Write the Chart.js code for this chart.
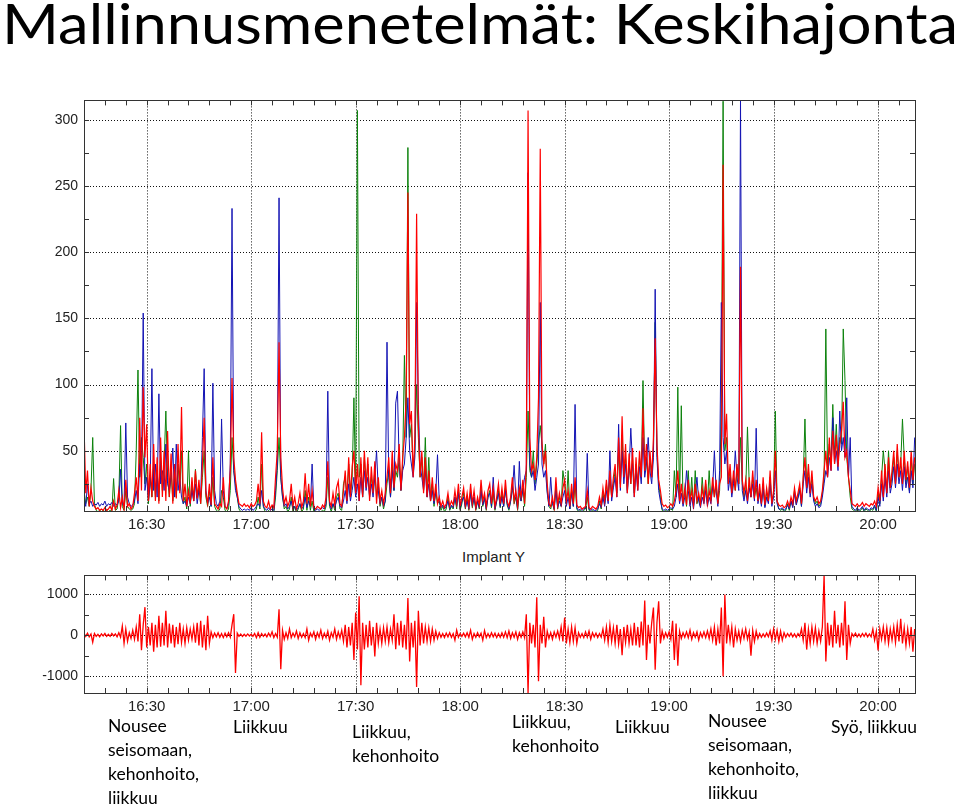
<!DOCTYPE html>
<html lang="fi">
<head>
  <meta charset="UTF-8">
  <title>Mallinnusmenetelmät: Keskihajonta</title>
  <script src="https://cdn.jsdelivr.net/npm/chart.js"></script>
  <style>
    body {
      margin: 0;
      width: 960px;
      height: 807px;
      background: #fff;
      position: relative;
      overflow: hidden;
      font-family: Lato, "Open Sans", sans-serif;
    }
    #title {
      position: absolute;
      left: 2px;
      top: -5px;
      font-size: 56px;
      line-height: 56px;
      white-space: nowrap;
      display: inline-block;
      transform-origin: 0 0;
      color: #000;
    }
    .box {
      position: absolute;
      left: 0;
      width: 960px;
    }
    #topBox { top: 86px; height: 454px; }
    #bottomBox { top: 561px; height: 164px; }
    #implant {
      position: absolute;
      left: 462px;
      top: 548px;
      font: 15px "Liberation Sans", Arial, sans-serif;
      color: #222;
    }
    .note {
      position: absolute;
      font-size: 17.5px;
      line-height: 24px;
      color: #000;
      white-space: nowrap;
    }
  </style>
</head>
<body>
  <div id="title">Mallinnusmenetelmät: Keskihajonta</div>
  <div class="box" id="topBox"><canvas id="topChart"></canvas></div>
  <div id="implant">Implant Y</div>
  <div class="box" id="bottomBox"><canvas id="bottomChart"></canvas></div>

  <div class="note" style="left:108px; top:714px;">Nousee<br>seisomaan,<br>kehonhoito,<br>liikkuu</div>
  <div class="note" style="left:233px; top:715px;">Liikkuu</div>
  <div class="note" style="left:352px; top:720px;">Liikkuu,<br>kehonhoito</div>
  <div class="note" style="left:512px; top:710px;">Liikkuu,<br>kehonhoito</div>
  <div class="note" style="left:615px; top:715px;">Liikkuu</div>
  <div class="note" style="left:708px; top:709px;">Nousee<br>seisomaan,<br>kehonhoito,<br>liikkuu</div>
  <div class="note" style="left:831px; top:715px;">Syö, liikkuu</div>

  <script>
    // time axis: minutes after 16:00, one sample every half minute
    const startMinute = 12;
    const stepMinutes = 0.5;
    const xMin = 12, xMax = 250.6;

    // top plot, std of the three channels
    const redStd = [
      70,18,35,8,22,12,8,6,7,5,6,5,7,5,6,8,5,12,6,9,
      20,7,15,6,28,8,10,6,8,18,30,12,75,20,98,45,70,12,40,15,
      55,12,45,10,60,15,50,12,65,15,48,10,40,14,55,18,83,12,25,8,
      20,10,30,12,35,14,28,10,40,75,18,10,25,9,45,10,8,6,10,8,
      30,8,6,12,35,105,45,28,18,10,9,8,10,8,9,7,10,8,9,12,
      25,10,64,12,8,7,12,6,9,7,30,50,132,45,22,10,15,8,12,25,
      8,15,6,10,18,7,12,33,10,25,8,20,7,6,8,7,6,9,7,15,
      42,12,8,18,9,22,27,10,8,20,35,12,45,15,38,50,18,40,12,45,
      15,50,22,45,12,38,18,42,10,30,12,20,10,18,30,45,18,50,22,40,
      35,55,20,45,60,90,245,70,80,30,60,229,70,30,50,18,45,15,35,12,
      30,12,25,10,15,8,12,7,10,18,8,12,9,20,10,25,8,15,22,9,
      18,8,25,10,20,7,15,9,28,12,18,8,20,25,10,22,8,15,25,10,
      22,10,28,12,8,15,30,12,20,8,22,15,28,10,40,307,60,35,40,28,
      45,90,278,55,40,50,25,10,8,15,7,30,9,18,10,22,28,12,20,8,
      25,10,30,9,7,8,6,7,8,20,7,6,8,7,6,8,15,9,22,12,
      28,12,35,15,30,40,15,60,22,76,30,55,18,48,25,52,15,45,20,50,
      30,82,35,55,25,50,30,60,135,55,28,20,10,8,9,7,8,10,8,12,
      20,35,12,25,10,22,9,28,12,20,9,25,12,18,10,22,12,28,10,20,
      12,30,15,28,10,25,30,266,55,78,25,40,18,35,20,40,25,189,28,18,
      28,12,30,15,35,14,28,12,25,10,30,9,22,12,35,10,20,50,12,9,
      8,9,7,8,12,8,15,10,22,12,18,25,10,30,45,22,40,18,35,15,
      12,15,10,12,20,35,50,30,60,35,65,40,62,38,55,65,87,45,50,30,
      20,10,9,8,10,8,9,11,8,10,9,8,10,9,12,8,22,12,35,15,
      40,18,45,22,35,50,25,55,30,45,25,50,28,42,22,50,28,45
    ];
    const blueStd = [
      15,8,25,10,12,8,10,9,11,8,10,9,12,8,10,9,11,8,10,9,
      12,36,10,8,71,15,10,8,9,12,20,10,40,30,154,20,30,12,25,112,
      20,40,15,93,25,35,20,55,25,20,30,52,15,55,20,30,15,10,12,8,
      15,10,20,12,25,10,20,15,60,112,20,10,15,8,101,20,10,8,12,74,
      20,8,6,10,40,233,35,20,15,8,6,5,6,5,6,5,7,5,6,8,
      10,8,20,8,6,5,7,5,6,5,20,40,241,30,15,8,10,6,8,12,
      6,8,5,7,10,6,8,15,7,12,8,40,6,5,6,5,6,7,6,10,
      95,10,6,10,7,12,15,8,7,12,20,10,25,12,20,30,15,25,12,30,
      15,35,20,30,15,25,15,30,50,20,10,15,8,12,132,30,15,35,20,86,
      95,40,20,35,40,60,90,50,40,30,45,162,85,40,30,20,35,15,25,12,
      20,10,18,47,12,7,9,6,8,12,6,9,7,15,8,18,6,12,15,7,
      12,6,18,8,15,6,12,7,20,9,14,6,15,18,8,30,6,12,18,8,
      15,8,20,10,6,12,20,39,15,6,42,12,20,30,35,260,40,30,35,20,
      30,40,162,40,30,35,18,8,30,10,6,20,7,12,8,15,20,8,15,6,
      18,8,85,7,5,6,5,6,7,48,6,5,6,5,5,6,10,7,15,8,
      20,10,50,12,22,30,15,70,20,50,25,40,18,35,67,40,15,35,20,38,
      25,60,30,40,60,35,25,45,172,45,20,12,6,5,6,5,6,7,6,8,
      15,25,10,18,8,15,35,20,8,15,6,18,30,12,7,15,10,20,8,15,
      10,22,50,20,8,35,162,60,40,50,20,30,15,25,50,30,20,315,20,12,
      20,10,22,15,25,12,67,10,18,8,22,7,15,10,25,8,15,35,10,6,
      6,7,5,6,9,6,12,7,18,9,14,20,8,25,35,18,30,15,25,12,
      8,10,7,8,15,25,35,30,45,35,75,40,50,35,80,50,60,45,90,30,
      60,8,6,5,7,5,6,8,5,7,6,5,7,6,9,5,15,8,25,12,
      30,15,35,18,25,38,22,40,25,35,20,38,22,30,18,35,22,60
    ];
    const greenStd = [
      20,10,15,8,20,60,10,5,4,5,4,5,4,5,4,5,4,29,5,6,
      15,69,8,5,20,8,6,5,6,10,50,111,30,60,45,25,40,10,30,15,
      40,15,35,12,45,20,40,80,30,15,35,12,30,15,40,20,50,10,15,6,
      50,8,25,12,36,15,22,10,30,50,15,8,20,8,30,8,5,4,6,20,
      15,5,4,6,20,60,35,25,15,6,4,3,4,3,4,3,4,3,4,6,
      15,6,40,8,4,3,5,3,4,3,15,35,60,30,15,6,8,4,6,15,
      4,8,3,6,10,4,6,20,5,15,5,12,4,3,4,3,4,5,4,8,
      30,8,4,10,5,15,18,6,5,25,30,12,40,15,30,90,20,307,30,40,
      15,45,25,40,15,30,20,35,15,25,8,15,6,12,25,35,15,40,20,35,
      30,45,20,40,122,60,279,60,70,35,50,100,60,30,45,20,60,15,45,12,
      25,8,20,10,12,5,8,4,6,15,5,8,6,15,6,20,5,10,18,6,
      15,5,20,7,15,5,12,6,22,8,15,5,15,20,7,18,5,12,20,7,
      18,8,22,9,5,12,25,10,15,5,18,12,22,8,30,80,35,30,50,25,
      40,55,69,55,40,55,20,8,6,12,5,25,6,15,8,35,25,10,35,6,
      20,8,25,6,4,5,4,5,6,15,5,4,5,4,4,5,12,6,18,10,
      25,12,30,15,25,35,18,50,25,60,30,45,20,40,25,45,18,40,25,45,
      30,103,35,45,25,45,30,50,147,50,25,15,5,4,5,4,5,6,5,35,
      15,98,12,84,10,20,8,35,10,30,7,35,10,15,8,30,12,25,10,35,
      12,25,15,25,10,20,86,314,50,60,25,35,18,30,20,35,25,60,25,15,
      20,68,25,15,30,15,22,12,20,10,25,8,18,12,30,10,18,80,12,6,
      5,6,4,5,10,5,12,8,20,10,15,22,8,28,74,22,35,18,30,15,
      10,12,8,10,18,30,142,35,55,40,85,45,70,40,60,55,142,103,45,30,
      15,6,5,4,6,4,5,7,4,6,5,4,6,5,8,4,18,10,30,50,
      35,18,50,22,30,45,25,50,30,40,74,45,25,38,20,45,25,40
    ];

    // bottom plot, raw Implant Y signal
    const implantY = [
      40,-30,50,-40,30,-170,40,-30,20,-40,30,-20,40,-30,20,-30,40,-20,30,-40,
      60,-50,220,-200,150,-150,60,-80,120,-100,200,-150,510,-365,250,680,-300,200,-250,300,
      -400,250,-300,470,-280,300,-250,590,-300,280,-200,250,-300,200,-220,300,-180,150,-200,180,
      -120,150,-100,200,-180,300,-250,350,-300,250,-365,470,-200,80,-60,50,-40,60,-50,40,
      -60,50,-40,60,-50,250,510,-920,50,-30,25,-30,20,-25,30,-20,25,-30,40,-60,
      60,-50,40,-30,30,-40,50,-30,80,-60,40,-50,630,-825,120,-100,60,-80,150,-60,
      50,-40,100,-80,60,-50,40,-60,150,-120,50,-40,80,-100,60,-50,120,-80,50,-60,
      100,-120,60,-50,150,-100,80,-70,120,-150,250,-300,200,-250,300,-600,550,-350,945,-1215,
      300,-350,250,-300,350,-250,200,-520,300,-200,150,-200,180,-150,200,-180,150,-120,510,-340,
      300,-250,350,-300,250,-350,905,-640,300,-300,350,-1260,590,-250,300,-200,200,-150,180,-150,
      150,-120,100,-80,60,-50,40,-60,50,-40,60,-50,40,-120,120,-50,40,-30,50,-40,
      60,-50,120,-100,40,-50,60,-40,50,-120,110,-60,40,-50,60,-40,50,-60,40,-50,
      60,-50,80,-60,100,-80,60,-50,80,-100,60,-50,80,-60,510,-1410,300,-200,250,-300,
      920,-1120,250,-200,445,-300,100,-80,60,-100,80,-50,100,-80,200,-150,430,-200,150,-180,
      200,-150,180,-200,60,-50,40,-60,80,-50,100,-100,60,-40,50,-60,40,-50,150,-120,
      200,-180,250,-150,180,-200,250,-220,150,-485,200,-180,250,-200,150,-250,300,-250,200,-300,
      330,-250,840,-600,250,-200,300,670,-840,300,825,-200,100,-80,60,-50,80,-100,350,-600,
      280,-745,100,-80,60,-50,80,-60,120,-100,60,-50,80,-120,60,-50,80,-60,100,-80,
      150,-120,200,-250,150,-200,670,-1000,985,-200,250,-150,200,-300,150,-120,100,-150,120,-80,
      150,-100,80,-500,120,-150,100,-80,40,-50,30,-40,50,-40,100,-120,150,-100,120,-150,
      100,-120,60,-50,40,-30,50,-40,30,-50,40,-30,150,-120,300,-350,150,-200,200,-150,
      180,-200,100,-150,200,1460,-640,300,-250,250,-300,590,-200,250,-300,300,-250,825,-600,250,
      -200,40,-30,50,-40,30,-40,40,-30,50,-40,30,-40,150,-120,100,-370,150,-100,200,
      -150,180,-200,150,-120,200,-180,250,-150,400,-200,180,-250,150,-200,200,-400,150
    ];

    const toPoints = vals => vals.map((v, i) => ({ x: startMinute + i * stepMinutes, y: v }));
    const clock = v => (16 + Math.floor(v / 60)) + ':' + String(v % 60).padStart(2, '0');

    // keep only the round steps inside the range
    const roundTicks = step => s => {
      const t = [];
      for (let v = Math.ceil(s.min / step) * step; v <= s.max; v += step) t.push({ value: v });
      s.ticks = t;
    };

    // dotted grid under the data, frame and inward minor ticks on top
    const framePlugin = {
      id: 'frame',
      beforeDatasetsDraw(chart) {
        const { ctx, chartArea: a, scales: { x, y } } = chart;
        ctx.save();
        ctx.strokeStyle = '#111';
        ctx.lineWidth = 1;
        ctx.setLineDash([1, 2]);
        ctx.beginPath();
        x.ticks.forEach(t => {
          const px = Math.round(x.getPixelForValue(t.value)) + 0.5;
          ctx.moveTo(px, a.top); ctx.lineTo(px, a.bottom);
        });
        y.ticks.forEach(t => {
          const py = Math.round(y.getPixelForValue(t.value)) + 0.5;
          ctx.moveTo(a.left, py); ctx.lineTo(a.right, py);
        });
        ctx.stroke();
        ctx.restore();
      },
      afterDatasetsDraw(chart, args, opts) {
        const { ctx, chartArea: a, scales: { x, y } } = chart;
        ctx.save();
        ctx.strokeStyle = '#333';
        ctx.lineWidth = 1;
        ctx.beginPath();
        for (let v = Math.ceil(x.min / opts.xMinor) * opts.xMinor; v <= x.max; v += opts.xMinor) {
          const px = Math.round(x.getPixelForValue(v)) + 0.5;
          ctx.moveTo(px, a.top); ctx.lineTo(px, a.top + 5);
          ctx.moveTo(px, a.bottom); ctx.lineTo(px, a.bottom - 5);
        }
        for (let v = Math.ceil(y.min / opts.yMinor) * opts.yMinor; v <= y.max; v += opts.yMinor) {
          const py = Math.round(y.getPixelForValue(v)) + 0.5;
          ctx.moveTo(a.left, py); ctx.lineTo(a.left + 5, py);
          ctx.moveTo(a.right, py); ctx.lineTo(a.right - 5, py);
        }
        ctx.stroke();
        ctx.strokeRect(Math.round(a.left) + 0.5, Math.round(a.top) + 0.5,
          Math.round(a.right - a.left), Math.round(a.bottom - a.top));
        ctx.restore();
      }
    };

    function lineSet(label, vals, color, width) {
      return {
        label: label,
        data: toPoints(vals),
        borderColor: color,
        borderWidth: width,
        pointRadius: 0,
        tension: 0
      };
    }

    function makeChart(id, datasets, yOpts, xAxisHeight, minor) {
      return new Chart(document.getElementById(id), {
        type: 'line',
        data: { datasets: datasets },
        plugins: [framePlugin],
        options: {
          responsive: true,
          maintainAspectRatio: false,
          animation: false,
          layout: { padding: { top: 10, right: 45, bottom: 0, left: 0 } },
          plugins: {
            legend: { display: false },
            tooltip: { enabled: false },
            frame: minor
          },
          scales: {
            x: {
              type: 'linear',
              min: xMin,
              max: xMax,
              grid: { display: false, drawTicks: false },
              border: { display: false },
              afterBuildTicks: roundTicks(30),
              ticks: {
                autoSkip: false,
                maxRotation: 0,
                padding: 5,
                color: '#222',
                font: { family: 'Liberation Sans', size: 15 },
                callback: clock
              },
              afterFit: s => { s.height = xAxisHeight; }
            },
            y: {
              min: yOpts.min,
              max: yOpts.max,
              grid: { display: false, drawTicks: false },
              border: { display: false },
              afterBuildTicks: roundTicks(yOpts.step),
              ticks: {
                padding: 6,
                color: '#222',
                font: { family: 'Liberation Sans', size: 14 },
                callback: v => String(v)
              },
              afterFit: s => { s.width = 84; }
            }
          }
        }
      });
    }

    makeChart('topChart', [
      lineSet('Red', redStd, '#ff0000', 1.2),
      lineSet('Blue', blueStd, '#1414b4', 1),
      lineSet('Green', greenStd, '#0c820c', 1)
    ], { min: 4.5, max: 314.6, step: 50 }, 29, { xMinor: 6, yMinor: 25 });

    makeChart('bottomChart', [
      lineSet('Implant Y', implantY, '#ff0000', 1.3)
    ], { min: -1405, max: 1452, step: 1000 }, 32, { xMinor: 6, yMinor: 500 });

    const title = document.getElementById('title');
    const w = title.getBoundingClientRect().width;
    title.style.transform = 'scaleX(' + (956 / w) + ')';
  </script>
</body>
</html>
